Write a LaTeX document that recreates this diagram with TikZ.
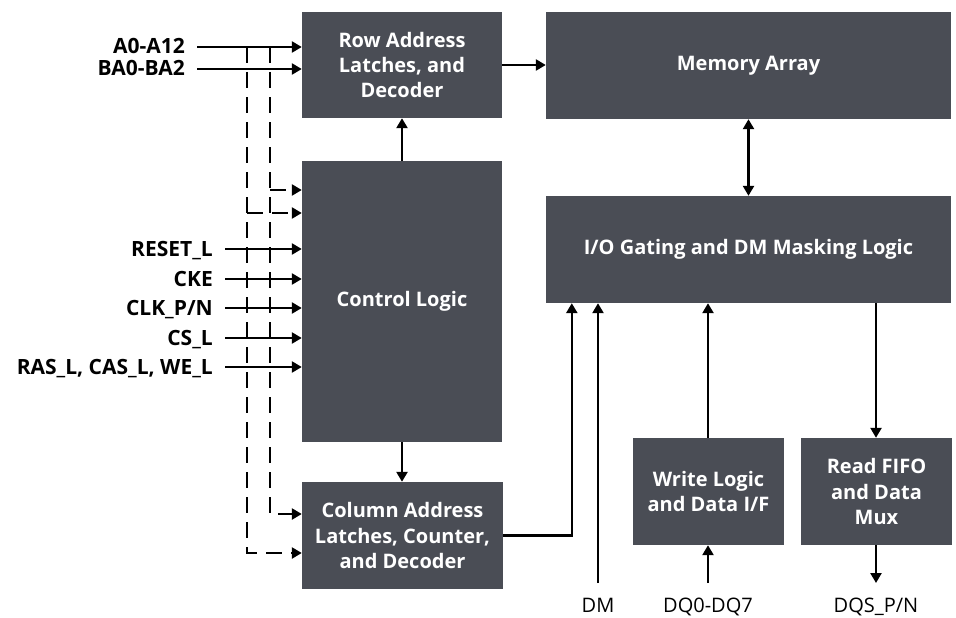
\documentclass[tikz,border=0pt]{standalone}
\usepackage{fontspec}
\setmainfont{Open Sans}
\usetikzlibrary{arrows.meta}
\definecolor{boxgray}{RGB}{74,77,85}
\begin{document}
\begin{tikzpicture}[x=1pt,y=-1pt,
  blk/.style={fill=boxgray, text=white, font=\bfseries\fontsize{20}{25.5}\selectfont, align=center, inner sep=0pt},
  arr/.style={line width=2.4pt, -{Triangle[length=10pt,width=11pt]}},
  biarr/.style={line width=2.4pt, {Triangle[length=10pt,width=11pt]}-{Triangle[length=10pt,width=11pt]}},
  darr/.style={arr, dash pattern=on 16pt off 9pt},
  sig/.style={font=\bfseries\fontsize{21}{25}\selectfont, anchor=east, inner xsep=12pt, inner ysep=0pt, text height=14pt, text depth=0pt},
  bot/.style={font=\fontsize{20}{25}\selectfont, anchor=north, inner xsep=0pt, inner ysep=15pt, text height=14pt, text depth=0pt}]
\useasboundingbox (0,0) rectangle (956,618);

% blocks
\node[blk, minimum width=200pt, minimum height=106pt] (row) at (402,65) {Row Address\\Latches, and\\Decoder};
\node[blk, minimum width=405pt, minimum height=107pt] (mem) at (748.5,65.5) {Memory Array};
\node[blk, minimum width=405pt, minimum height=107pt] (io) at (748.5,249.5) {I/O Gating and DM Masking Logic};
\node[blk, minimum width=200pt, minimum height=281pt] (ctrl) at (402,301.5) {Control Logic};
\node[blk, minimum width=201pt, minimum height=107pt] (col) at (402.5,535.5) {Column Address\\Latches, Counter,\\and Decoder};
\node[blk, minimum width=151pt, minimum height=107pt] (wr) at (708.5,491.5) {Write Logic\\and Data I/F};
\node[blk, minimum width=151pt, minimum height=107pt] (rd) at (876.5,491.5) {Read FIFO\\and Data\\Mux};

% address inputs
\node[sig] (a0) at (197,47) {A0-A12};
\node[sig] (ba) at (197,69) {BA0-BA2};
\draw[arr] (a0.east) -- (row.west |- a0.east);
\draw[arr] (ba.east) -- (row.west |- ba.east);

% dashed address routing
\coordinate (d1) at (270,47);
\coordinate (d2) at (247,47);
\coordinate (b1) at (270,190);
\coordinate (b2) at (247,213);
\draw[darr] (d1) |- (col.west |- 0,514);
\draw[darr] (d2) |- (col.west |- 0,553);
\draw[darr] (b1) -- (ctrl.west |- b1);
\draw[darr] (b2) -- (ctrl.west |- b2);

% control inputs
\node[sig] (rst) at (225,249) {RESET\_L};
\node[sig] (cke) at (225,279) {CKE};
\node[sig] (clk) at (225,308) {CLK\_P/N};
\node[sig] (cs) at (225,338) {CS\_L};
\node[sig] (ras) at (225,367) {RAS\_L, CAS\_L, WE\_L};
\foreach \s in {rst,cke,clk,cs,ras}
  \draw[arr] (\s.east) -- (ctrl.west |- \s.east);

% internal connections
\draw[arr] (ctrl.north) -- (row.south);
\draw[arr] (ctrl.south) -- (ctrl.south |- col.north);
\draw[arr] (row.east) -- (mem.west |- row.east);
\draw[biarr] (mem.south) -- (io.north);
\draw[arr] (col.east) -| ([xshift=26pt]io.south west);

% bottom signals
\node[bot] (dm) at (598,583) {DM};
\node[bot] (dq) at (708,583) {DQ0-DQ7};
\node[bot] (dqs) at (876,583) {DQS\_P/N};
\draw[arr] (dm.north) -- (io.south -| dm.north);
\draw[arr] (dq.north) -- (wr.south -| dq.north);
\draw[arr] (wr.north -| dq.north) -- (io.south -| dq.north);
\draw[arr] (io.south -| dqs.north) -- (rd.north -| dqs.north);
\draw[arr] (rd.south -| dqs.north) -- (dqs.north);
\end{tikzpicture}
\end{document}
